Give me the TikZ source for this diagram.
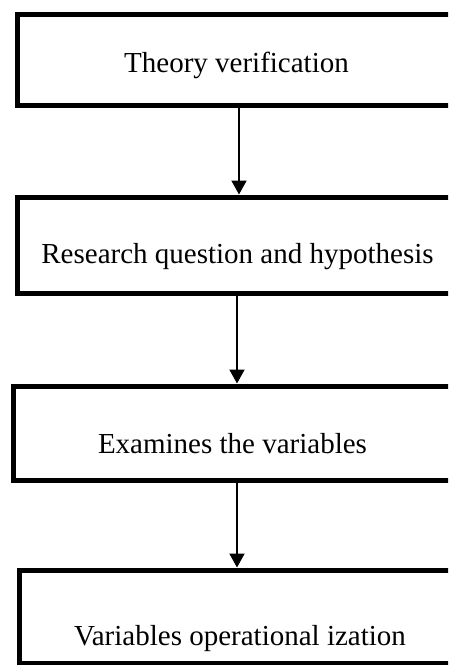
\documentclass[tikz,border=0pt]{standalone}
\usepackage{fontspec}
\setmainfont{Liberation Serif}
\usetikzlibrary{arrows.meta}

\begin{document}
\begin{tikzpicture}[x=1pt,y=-1pt,
  stepbox/.style={draw=black, line width=5pt, fill=white, rectangle, inner sep=0pt},
  steptext/.style={anchor=base, inner sep=0pt, font=\fontsize{29}{34}\selectfont},
  flow/.style={line width=2pt, -{Triangle[width=15pt,length=14pt]}}]
  \useasboundingbox (0,0) rectangle (448,665);
  \clip (0,0) rectangle (448,665);

  % boxes (their right sides run past the page edge)
  \node[stepbox, minimum width=439.5pt, minimum height=91pt]   (b1) at (237.25,60) {};
  \node[stepbox, minimum width=441pt,   minimum height=96.5pt] (b2) at (237.5,245.25) {};
  \node[stepbox, minimum width=439pt,   minimum height=94pt]   (b3) at (232.5,433) {};
  \node[stepbox, minimum width=442pt,   minimum height=93.5pt] (b4) at (240,616.75) {};

  % labels
  \node[steptext] (t1) at (236.5,72)  {Theory verification};
  \node[steptext] (t2) at (237.5,263) {Research question and hypothesis};
  \node[steptext] (t3) at (232.5,453) {Examines the variables};
  \node[steptext] (t4) at (240,645)   {Variables operational ization};

  % vertical positions of the connectors
  \coordinate (x1) at (239,0);
  \coordinate (x2) at (237,0);
  \coordinate (x3) at (237,0);

  \draw[flow] (b1.south -| x1) -- (b2.north -| x1);
  \draw[flow] (b2.south -| x2) -- (b3.north -| x2);
  \draw[flow] (b3.south -| x3) -- (b4.north -| x3);
\end{tikzpicture}
\end{document}
